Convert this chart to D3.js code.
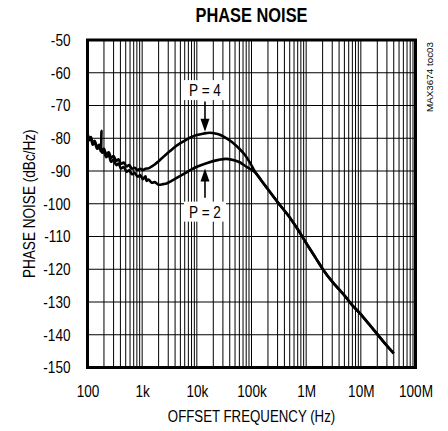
<!DOCTYPE html>
<html>
<head>
<meta charset="utf-8">
<script src="https://d3js.org/d3.v7.min.js"></script>
<style>
  body { margin: 0; background: #fff; }
  text { font-family: 'Liberation Sans', Arial, sans-serif; fill: #000; }
</style>
</head>
<body>
<script>
// x tick values and their labels
const freqTicks = [1e2, 1e3, 1e4, 1e5, 1e6, 1e7, 1e8];
const freqLabels = ['100', '1k', '10k', '100k', '1M', '10M', '100M'];
const noiseTicks = [-50, -60, -70, -80, -90, -100, -110, -120, -130, -140, -150];

// P = 4 curve, low offsets (noisy part), [Hz, dBc/Hz]
const p4Head = [
  [100, -78.5], [108, -80.2], [115, -79.6], [125, -81.5], [135, -80.8], [150, -82.6],
  [165, -82.0], [180, -83.8], [200, -83.2], [220, -84.9], [245, -84.3], [270, -86.0],
  [300, -85.4], [335, -86.9], [370, -86.4], [410, -87.8], [460, -87.4], [520, -88.6],
  [580, -88.2], [650, -89.3], [730, -89.0], [820, -89.7], [920, -89.3], [1030, -89.7],
  [1150, -89.3], [1300, -89.2], [1500, -88.6], [1700, -88.0], [2000, -87.0], [2400, -85.8],
  [2800, -84.8], [3200, -84.0], [4000, -82.6], [5000, -81.5], [6500, -80.4], [8000, -79.6],
  [10000, -79.0], [12900, -78.6], [17500, -78.3], [25000, -78.8], [32700, -79.7],
  [45000, -81.3], [60000, -83.2], [76000, -85.1], [95000, -87.6], [116000, -90.2]
];

// P = 2 curve, low offsets
const p2Head = [
  [100, -78.8], [108, -80.6], [115, -80.0], [125, -82.0], [135, -81.2], [150, -83.2],
  [165, -82.6], [175, -84.0], [180, -77.7], [185, -84.4], [200, -84.0], [220, -85.8],
  [245, -85.2], [270, -87.2], [300, -86.6], [335, -88.2], [370, -87.7], [410, -89.2],
  [460, -88.8], [520, -90.2], [580, -89.8], [650, -91.0], [730, -90.6], [820, -91.7],
  [920, -91.3], [1030, -92.5], [1150, -91.6], [1200, -93.0], [1300, -92.6], [1500, -93.6],
  [1700, -93.4], [2000, -94.2], [2400, -94.0], [2800, -93.8], [3200, -93.3], [4000, -92.4],
  [5000, -91.5], [6500, -90.4], [8000, -89.5], [10000, -88.7], [15000, -87.6],
  [25000, -86.6], [35000, -86.3], [50000, -86.8], [62000, -87.4], [76000, -88.4],
  [95000, -89.4], [116000, -90.4]
];

// shared roll-off above ~120 kHz
const tail = [
  [150000, -92.8], [200000, -95.6], [300000, -99.5], [471000, -103.6], [700000, -107.8],
  [1000000, -112.0], [1500000, -116.6], [2060000, -120.2], [3000000, -123.8],
  [5000000, -128.0], [7000000, -131.0], [9660000, -133.5], [14000000, -136.7],
  [20000000, -139.8], [28000000, -142.8], [40000000, -145.7]
];

// annotation labels: text, x (Hz), label dB, arrow from dB, arrow tip dB
const notes = [
  { text: 'P = 4', f: 14100, at: -65.3, from: -68.8, to: -78.0 },
  { text: 'P = 2', f: 14100, at: -102.4, from: -98.2, to: -89.2 }
];

const W = 448, H = 431;
const NARROW = 0.8; // condensed look, font has no narrow cut here
const svg = d3.select('body').append('svg')
  .attr('width', W).attr('height', H);

const x = d3.scaleLog().domain([1e2, 1e8]).range([87.5, 415.5]);
const y = d3.scaleLinear().domain([-150, -50]).range([367.5, 40]);

// grid
const vLines = [];
for (let d = 100; d < 1e8; d *= 10) {
  for (let m = 2; m <= 9; m++) vLines.push(d * m);
}
vLines.push(...freqTicks.slice(1, -1));
const grid = svg.append('g');
grid.selectAll('line.v').data(vLines).enter().append('line')
  .attr('x1', d => x(d)).attr('x2', d => x(d))
  .attr('y1', y(-50)).attr('y2', y(-150))
  .attr('stroke', '#000').attr('stroke-width', 1);
grid.selectAll('line.h').data(noiseTicks.slice(1, -1)).enter().append('line')
  .attr('x1', x(1e2)).attr('x2', x(1e8))
  .attr('y1', d => y(d)).attr('y2', d => y(d))
  .attr('stroke', '#000').attr('stroke-width', 1);

// curves
const line = d3.line()
  .x(d => x(d[0])).y(d => y(d[1]))
  .curve(d3.curveCatmullRom.alpha(0.5));
[p4Head.concat(tail), p2Head.concat(tail)].forEach(s => {
  svg.append('path').datum(s)
    .attr('d', line)
    .attr('fill', 'none')
    .attr('stroke', '#000')
    .attr('stroke-width', 2.6)
    .attr('stroke-linejoin', 'round');
});

// annotations
notes.forEach(n => {
  const cx = x(n.f);
  svg.append('rect')
    .attr('x', cx - 21).attr('y', y(n.at) - 10)
    .attr('width', 42).attr('height', 20)
    .attr('fill', '#fff');
  svg.append('text')
    .attr('transform', `translate(${cx},${y(n.at)}) scale(${NARROW},1)`)
    .attr('dy', '0.36em')
    .attr('text-anchor', 'middle')
    .style('font-size', '17px')
    .text(n.text);
  const y0 = y(n.from), y1 = y(n.to);
  const dir = y1 > y0 ? 1 : -1;
  svg.append('line')
    .attr('x1', cx).attr('x2', cx)
    .attr('y1', y0).attr('y2', y1 - dir * 10)
    .attr('stroke', '#000').attr('stroke-width', 1.6);
  svg.append('path')
    .attr('d', `M${cx - 4.5},${y1 - dir * 13}L${cx + 4.5},${y1 - dir * 13}L${cx},${y1}Z`)
    .attr('fill', '#000');
});

// frame
svg.append('rect')
  .attr('x', x(1e2)).attr('y', y(-50))
  .attr('width', x(1e8) - x(1e2)).attr('height', y(-150) - y(-50))
  .attr('fill', 'none').attr('stroke', '#000').attr('stroke-width', 3);

// axes
const xAxis = svg.append('g')
  .attr('transform', `translate(0,${y(-150)})`)
  .call(d3.axisBottom(x).tickValues(freqTicks)
    .tickFormat((d, i) => freqLabels[i]).tickSize(0).tickPadding(17));
xAxis.select('.domain').remove();
xAxis.selectAll('text')
  .style('font-size', '17px').style('font-family', null)
  .attr('transform', `scale(${NARROW},1)`);

const yAxis = svg.append('g')
  .attr('transform', `translate(${x(1e2)},0)`)
  .call(d3.axisLeft(y).tickValues(noiseTicks)
    .tickFormat(d => d).tickSize(0));
yAxis.select('.domain').remove();
yAxis.selectAll('text')
  .style('font-size', '17px').style('font-family', null)
  .attr('x', null)
  .attr('transform', `translate(-17,0) scale(${NARROW},1)`);

// titles
svg.append('text')
  .attr('transform', `translate(251.5,21.5) scale(0.82,1)`)
  .attr('text-anchor', 'middle')
  .style('font-size', '20px').style('font-weight', 'bold')
  .text('PHASE NOISE');

svg.append('text')
  .attr('transform', `translate(251.5,422) scale(0.78,1)`)
  .attr('text-anchor', 'middle')
  .style('font-size', '17px')
  .text('OFFSET FREQUENCY (Hz)');

svg.append('text')
  .attr('transform', `translate(35,${y(-100)}) rotate(-90) scale(${NARROW},1)`)
  .attr('text-anchor', 'middle')
  .style('font-size', '17px')
  .text('PHASE NOISE (dBc/Hz)');

svg.append('text')
  .attr('transform', 'translate(433,42) rotate(-90)')
  .attr('text-anchor', 'end')
  .attr('textLength', 70).attr('lengthAdjust', 'spacingAndGlyphs')
  .style('font-size', '9px')
  .text('MAX3674 toc03');
</script>
</body>
</html>
